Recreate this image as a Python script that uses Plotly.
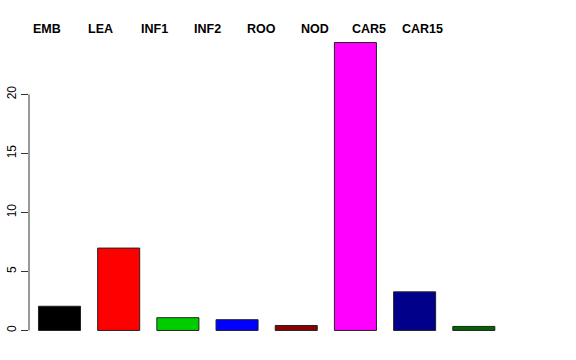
import plotly.graph_objects as go

categories = ["EMB", "LEA", "INF1", "INF2", "ROO", "NOD", "CAR5", "CAR15"]
values = [2.05, 6.98, 1.08, 0.91, 0.42, 24.4, 3.27, 0.34]
colors = ["#000000", "#FF0000", "#00CD00", "#0000FF", "#8B0000", "#FF00FF", "#00008B", "#006400"]
y_ticks = [0, 5, 10, 15, 20]

xpos = list(range(len(categories)))

fig = go.Figure()
fig.add_trace(go.Bar(
    x=xpos, y=values, width=0.71,
    marker=dict(color=colors, line=dict(color="#222222", width=1)),
    hoverinfo="skip", showlegend=False,
))

# axis line only spanning the tick range, like base R
fig.add_shape(type="line", xref="paper", yref="y", x0=0, x1=0,
              y0=y_ticks[0], y1=y_ticks[-1], line=dict(color="#333333", width=1))

# category labels across the top
step = 0.906
start = -0.211
for i, lab in enumerate(categories):
    fig.add_annotation(x=start + i * step, y=1.0, xref="x", yref="paper",
                       yanchor="middle", yshift=2, text="<b>%s</b>" % lab,
                       showarrow=False,
                       font=dict(family="Liberation Sans, Arial, sans-serif", size=12.5, color="black"))

fig.update_layout(
    width=576, height=360,
    margin=dict(l=29, r=72, t=31, b=17.5),
    plot_bgcolor="white", paper_bgcolor="white",
    xaxis=dict(range=[-0.515, 7.51], showticklabels=False, showgrid=False,
               zeroline=False, showline=False, ticks="", automargin=False),
    yaxis=dict(range=[-0.98, 25.38], tickvals=y_ticks, ticktext=[str(v) for v in y_ticks],
               tickangle=-90, ticks="outside", ticklen=7, tickcolor="#333333",
               showgrid=False, zeroline=False, showline=False, automargin=False,
               tickfont=dict(family="Liberation Sans, Arial, sans-serif", size=12, color="black")),
    font=dict(family="Liberation Sans, Arial, sans-serif"),
)

fig.write_html("out.html")
